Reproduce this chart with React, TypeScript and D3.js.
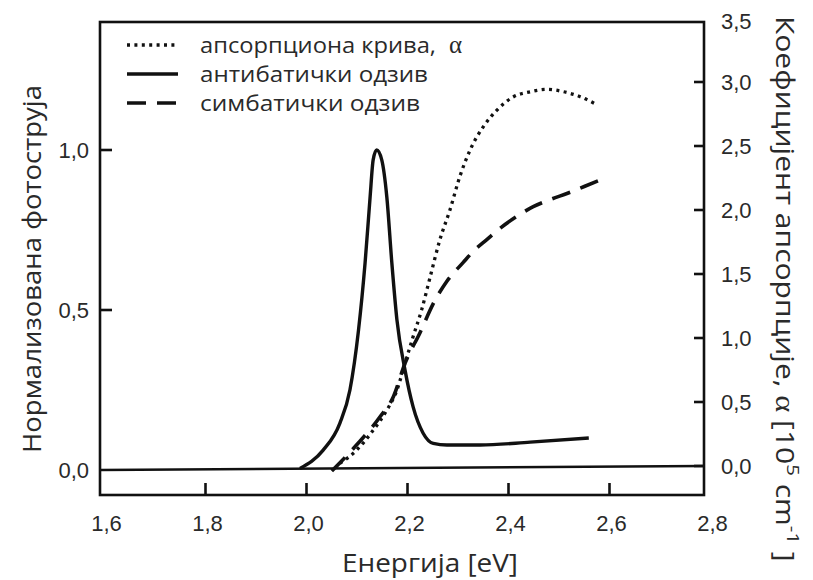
import React from "react";
import * as d3 from "d3";

// Axis ticks
const energyTicks = [1.6, 1.8, 2.0, 2.2, 2.4, 2.6, 2.8];
const photoTicks = [0, 0.5, 1.0];
const alphaTicks = [0, 0.5, 1.0, 1.5, 2.0, 2.5, 3.0, 3.5];

// Antibatic photocurrent response (normalised, left axis)
const antibaticE = [1.987, 2.033, 2.066, 2.086, 2.103, 2.116, 2.126, 2.132, 2.139, 2.149, 2.159, 2.169, 2.179, 2.195, 2.211, 2.231, 2.251, 2.278, 2.344, 2.443, 2.559];
const antibaticI = [0.005, 0.062, 0.146, 0.25, 0.437, 0.647, 0.854, 0.969, 1.0, 0.969, 0.854, 0.647, 0.47, 0.313, 0.198, 0.115, 0.083, 0.078, 0.078, 0.087, 0.1];

// Symbatic photocurrent response (normalised, left axis)
const symbaticE = [2.05, 2.099, 2.146, 2.172, 2.195, 2.225, 2.251, 2.278, 2.31, 2.33, 2.357, 2.383, 2.416, 2.449, 2.484, 2.517, 2.55, 2.586];
const symbaticI = [-0.003, 0.078, 0.167, 0.229, 0.333, 0.43, 0.52, 0.59, 0.648, 0.683, 0.72, 0.755, 0.792, 0.823, 0.846, 0.865, 0.886, 0.909];

// Absorption coefficient, 10^5 cm^-1 (right axis)
const absorptionE = [2.066, 2.099, 2.132, 2.159, 2.179, 2.195, 2.211, 2.228, 2.245, 2.264, 2.284, 2.304, 2.324, 2.35, 2.377, 2.41, 2.443, 2.476, 2.509, 2.542, 2.57];
const absorptionA = [0.021, 0.123, 0.279, 0.436, 0.592, 0.801, 1.009, 1.22, 1.479, 1.766, 2.0, 2.266, 2.469, 2.65, 2.78, 2.885, 2.924, 2.943, 2.924, 2.885, 2.833];

const legendLabels = ["апсорпциона крива,", "антибатички одзив", "симбатички одзив"];
const legendWidths = [236, 228, 220];

const W = 813;
const H = 580;
const frame = { left: 100, right: 704, top: 22, bottom: 495 };

const x = d3.scaleLinear().domain([2.0, 2.6]).range([306.5, 609.5]);
const yL = d3.scaleLinear().domain([0, 1]).range([470, 150]);
const yR = d3.scaleLinear().domain([0, 3]).range([466, 82]);

const fmt = (v: number) => d3.format(".1f")(v).replace(".", ",");

const zip = (a: number[], b: number[]) => a.map((e, i) => [e, b[i]] as [number, number]);

const lineL = d3
  .line<[number, number]>()
  .x((d) => x(d[0]))
  .y((d) => yL(d[1]))
  .curve(d3.curveMonotoneX);
const lineR = d3
  .line<[number, number]>()
  .x((d) => x(d[0]))
  .y((d) => yR(d[1]))
  .curve(d3.curveMonotoneX);

const ink = "#111";
const textInk = "#2a2a2a";
const tickFont = "'Liberation Sans', Arial, sans-serif";
const titleFont = "'Open Sans', 'Noto Sans', sans-serif";
const greekFont = "'Liberation Serif', 'DejaVu Serif', serif";

const dotted = "3 4.4";
const dashed = "19 11";

export default function App() {
  const legendY = [45, 74, 103];
  const legendStyles = [
    { dash: dotted, width: 3.3 },
    { dash: undefined, width: 3.4 },
    { dash: dashed, width: 3.6 },
  ];
  return (
    <svg
      width={W}
      height={H}
      viewBox={`0 0 ${W} ${H}`}
      style={{ position: "absolute", left: 0, top: 0, background: "#fff" }}
    >
      {/* baseline joining both zero levels */}
      <line
        x1={frame.left}
        x2={frame.right}
        y1={yL(0)}
        y2={yR(0)}
        stroke={ink}
        strokeWidth={2.4}
      />

      {/* curves */}
      <path
        d={lineR(zip(absorptionE, absorptionA)) || ""}
        fill="none"
        stroke={ink}
        strokeWidth={3.3}
        strokeDasharray={dotted}
      />
      <path
        d={lineL(zip(symbaticE, symbaticI)) || ""}
        fill="none"
        stroke={ink}
        strokeWidth={3.6}
        strokeDasharray={dashed}
      />
      <path
        d={lineL(zip(antibaticE, antibaticI)) || ""}
        fill="none"
        stroke={ink}
        strokeWidth={3.4}
        strokeLinejoin="round"
      />

      {/* frame */}
      <rect
        x={frame.left}
        y={frame.top}
        width={frame.right - frame.left}
        height={frame.bottom - frame.top}
        fill="none"
        stroke={ink}
        strokeWidth={2.6}
      />

      {/* bottom axis */}
      {energyTicks.map((t) => (
        <g key={`x${t}`}>
          {t > 1.65 && t < 2.75 && (
            <line x1={x(t)} x2={x(t)} y1={frame.bottom} y2={frame.bottom - 12} stroke={ink} strokeWidth={2.6} />
          )}
          <text
            x={x(t) + 2}
            y={531}
            textAnchor="middle"
            fontFamily={tickFont}
            fontSize={22}
            fill={textInk}
          >
            {fmt(t)}
          </text>
        </g>
      ))}

      {/* left axis */}
      {photoTicks.map((t) => (
        <g key={`l${t}`}>
          {t > 0 && (
            <line x1={frame.left} x2={frame.left + 12} y1={yL(t)} y2={yL(t)} stroke={ink} strokeWidth={2.6} />
          )}
          <text
            x={89}
            y={yL(t) + 8}
            textAnchor="end"
            fontFamily={tickFont}
            fontSize={22}
            fill={textInk}
          >
            {fmt(t)}
          </text>
        </g>
      ))}

      {/* right axis */}
      {alphaTicks.map((t) => (
        <g key={`r${t}`}>
          {yR(t) > frame.top && (
            <line x1={frame.right} x2={frame.right - 10} y1={yR(t)} y2={yR(t)} stroke={ink} strokeWidth={2.6} />
          )}
          <text
            x={721}
            y={Math.max(yR(t), 21) + 8}
            textAnchor="start"
            fontFamily={tickFont}
            fontSize={22}
            fill={textInk}
          >
            {fmt(t)}
          </text>
        </g>
      ))}

      {/* legend */}
      {legendLabels.map((label, i) => (
        <g key={label}>
          <line
            x1={127}
            x2={178}
            y1={legendY[i]}
            y2={legendY[i]}
            stroke={ink}
            strokeWidth={legendStyles[i].width}
            strokeDasharray={legendStyles[i].dash}
          />
          <text
            x={200}
            y={legendY[i] + 8}
            fontFamily={titleFont}
            fontSize={22}
            fill={textInk}
            textLength={legendWidths[i]}
            lengthAdjust="spacingAndGlyphs"
          >
            {label}
          </text>
          {i === 0 && (
            <text
              x={449}
              y={legendY[i] + 8}
              fontFamily={greekFont}
              fontSize={25}
              fill={textInk}
            >
              α
            </text>
          )}
        </g>
      ))}

      {/* axis titles */}
      <text
        x={430}
        y={572}
        textAnchor="middle"
        fontFamily={titleFont}
        fontSize={25}
        fill={textInk}
        textLength={176}
        lengthAdjust="spacingAndGlyphs"
      >
        Енергија [eV]
      </text>
      <text
        transform={`translate(41,269) rotate(-90)`}
        textAnchor="middle"
        fontFamily={titleFont}
        fontSize={25}
        fill={textInk}
        textLength={368}
        lengthAdjust="spacingAndGlyphs"
      >
        Нормализована фотоструја
      </text>
      <text
        transform={`translate(776,16) rotate(90) scale(1.2,1)`}
        textAnchor="start"
        fontFamily={titleFont}
        fontSize={25}
        fill={textInk}
      >
        Коефицијент апсорпције,{" "}
        <tspan fontFamily={greekFont} fontSize={27}>α</tspan> [10
        <tspan dy={-11} fontSize={17}>5</tspan>
        <tspan dy={11}> cm</tspan>
        <tspan dy={-11} fontSize={17}>-1</tspan>
        <tspan dy={11}> ]</tspan>
      </text>
    </svg>
  );
}
